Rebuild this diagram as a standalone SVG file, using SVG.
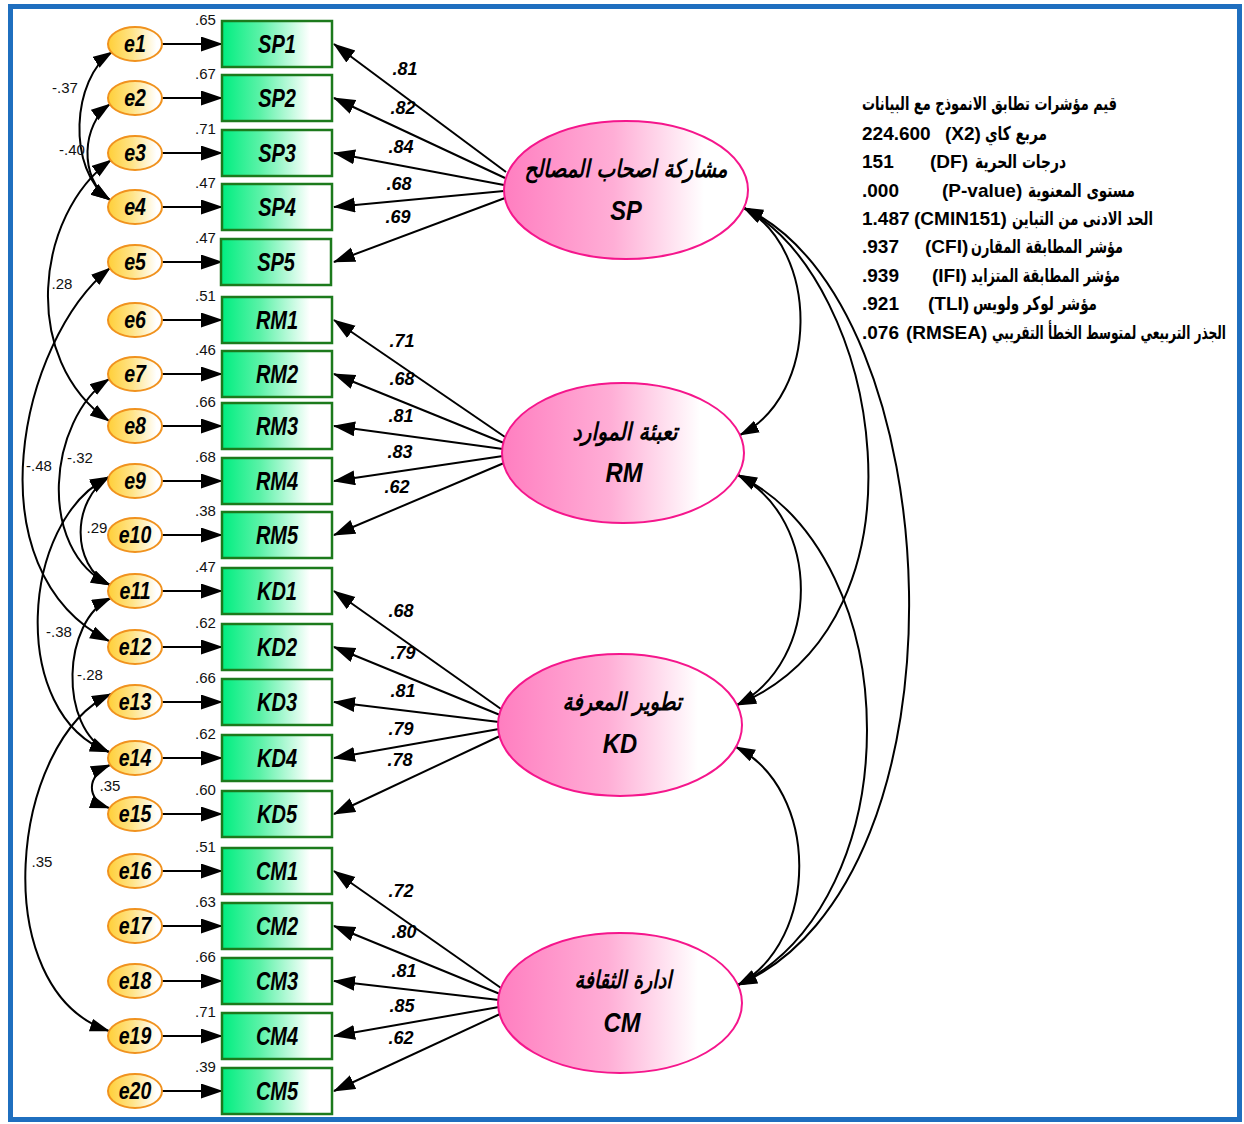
<svg xmlns="http://www.w3.org/2000/svg" width="1244" height="1124" viewBox="0 0 1244 1124">
<style>
.ln{stroke:#000;stroke-width:2;fill:none}
.one{marker-end:url(#ah)}
.two{marker-start:url(#ahs);marker-end:url(#ahs)}
.box{fill:url(#gBox);stroke:#1C7A1C;stroke-width:2.5}
.err{fill:url(#gErr);stroke:#F0921E;stroke-width:2}
.lat{fill:url(#gLat);stroke:#F5168C;stroke-width:2}
.var{font-family:"Liberation Sans",Arial,sans-serif;font-size:15px;fill:#111}
.cv{font-family:"Liberation Sans",Arial,sans-serif;font-size:15px;fill:#111;text-anchor:middle}
.el{font-family:"Liberation Sans",Arial,sans-serif;font-size:23px;font-weight:bold;font-style:italic;text-anchor:middle;transform-box:fill-box;transform-origin:center;transform:scaleX(0.85)}
.bl{font-family:"Liberation Sans",Arial,sans-serif;font-size:25px;font-weight:bold;font-style:italic;text-anchor:middle;transform-box:fill-box;transform-origin:center;transform:scaleX(0.8)}
.ld{font-family:"Liberation Sans",Arial,sans-serif;font-size:18px;font-weight:bold;font-style:italic;text-anchor:middle}
.lt{font-family:"Liberation Sans",Arial,sans-serif;font-size:27px;font-weight:bold;font-style:italic;text-anchor:middle;transform-box:fill-box;transform-origin:center;transform:scaleX(0.88)}
.ar{font-family:"DejaVu Sans","Noto Sans",sans-serif;font-size:24px;font-weight:bold;font-style:italic;text-anchor:middle}
.st{font-family:"Liberation Sans",Arial,sans-serif;font-size:19px;font-weight:bold}
.sa{font-family:"DejaVu Sans","Noto Sans",sans-serif;font-size:19px;font-weight:bold}
</style>
<defs>
<marker id="ah" markerUnits="userSpaceOnUse" markerWidth="22" markerHeight="16" refX="21" refY="7.5" orient="auto-start-reverse"><path d="M0,0 L22,7.5 L0,15 z" fill="#000"/></marker>
<marker id="ahs" markerUnits="userSpaceOnUse" markerWidth="20" markerHeight="14" refX="19" refY="6.5" orient="auto-start-reverse"><path d="M0,0 L20,6.5 L0,13 z" fill="#000"/></marker>
<linearGradient id="gBox" x1="0" y1="0" x2="1" y2="0"><stop offset="0" stop-color="#00EE80"/><stop offset="0.35" stop-color="#5CF2A8"/><stop offset="0.8" stop-color="#FFFFFF"/></linearGradient>
<linearGradient id="gErr" x1="0" y1="0" x2="1" y2="0"><stop offset="0" stop-color="#FFCF38"/><stop offset="0.45" stop-color="#FFE488"/><stop offset="0.9" stop-color="#FFFFFF"/></linearGradient>
<linearGradient id="gLat" x1="0" y1="0" x2="1" y2="0"><stop offset="0" stop-color="#FF7EC0"/><stop offset="0.45" stop-color="#FFAED6"/><stop offset="0.82" stop-color="#FFFFFF"/></linearGradient>
</defs>
<rect x="0" y="0" width="1244" height="1124" fill="#fff"/>
<rect x="10.5" y="6.5" width="1229" height="1113" fill="none" stroke="#1F6FBF" stroke-width="5"/>

<g id="connectors">
<line class="ln one" x1="162" y1="44" x2="222" y2="44"/>
<line class="ln one" x1="162" y1="98" x2="222" y2="98"/>
<line class="ln one" x1="162" y1="153" x2="222" y2="153"/>
<line class="ln one" x1="162" y1="207" x2="222" y2="207"/>
<line class="ln one" x1="162" y1="262" x2="222" y2="262"/>
<line class="ln one" x1="162" y1="320" x2="222" y2="320"/>
<line class="ln one" x1="162" y1="374" x2="222" y2="374"/>
<line class="ln one" x1="162" y1="426" x2="222" y2="426"/>
<line class="ln one" x1="162" y1="481" x2="222" y2="481"/>
<line class="ln one" x1="162" y1="535" x2="222" y2="535"/>
<line class="ln one" x1="162" y1="591" x2="222" y2="591"/>
<line class="ln one" x1="162" y1="647" x2="222" y2="647"/>
<line class="ln one" x1="162" y1="702" x2="222" y2="702"/>
<line class="ln one" x1="162" y1="758" x2="222" y2="758"/>
<line class="ln one" x1="162" y1="814" x2="222" y2="814"/>
<line class="ln one" x1="162" y1="871" x2="222" y2="871"/>
<line class="ln one" x1="162" y1="926" x2="222" y2="926"/>
<line class="ln one" x1="162" y1="981" x2="222" y2="981"/>
<line class="ln one" x1="162" y1="1036" x2="222" y2="1036"/>
<line class="ln one" x1="162" y1="1091" x2="222" y2="1091"/>
<line class="ln one" x1="506" y1="172" x2="334" y2="44"/>
<line class="ln one" x1="505" y1="178" x2="334" y2="98"/>
<line class="ln one" x1="504" y1="185" x2="334" y2="153"/>
<line class="ln one" x1="504" y1="191" x2="334" y2="207"/>
<line class="ln one" x1="505" y1="198" x2="334" y2="262"/>
<line class="ln one" x1="505" y1="437" x2="334" y2="320"/>
<line class="ln one" x1="504" y1="443" x2="334" y2="374"/>
<line class="ln one" x1="503" y1="449" x2="334" y2="426"/>
<line class="ln one" x1="503" y1="456" x2="334" y2="481"/>
<line class="ln one" x1="504" y1="463" x2="334" y2="535"/>
<line class="ln one" x1="501" y1="709" x2="334" y2="591"/>
<line class="ln one" x1="500" y1="715" x2="334" y2="647"/>
<line class="ln one" x1="499" y1="722" x2="334" y2="702"/>
<line class="ln one" x1="499" y1="729" x2="334" y2="758"/>
<line class="ln one" x1="500" y1="736" x2="334" y2="814"/>
<line class="ln one" x1="501" y1="988" x2="334" y2="871"/>
<line class="ln one" x1="500" y1="994" x2="334" y2="926"/>
<line class="ln one" x1="499" y1="1000" x2="334" y2="981"/>
<line class="ln one" x1="499" y1="1007" x2="334" y2="1036"/>
<line class="ln one" x1="500" y1="1014" x2="334" y2="1091"/>
<path class="ln two" d="M112,52 C72,78 66,170 110,200"/>
<path class="ln two" d="M110,104 C82,124 78,178 110,200"/>
<path class="ln two" d="M111,160 C35,215 20,360 109,421"/>
<path class="ln two" d="M110,268 C20,340 -30,570 109,641"/>
<path class="ln two" d="M109,379 C48,420 36,550 110,585"/>
<path class="ln two" d="M109,477 C72,500 70,565 110,585"/>
<path class="ln two" d="M109,477 C20,520 8,715 109,752"/>
<path class="ln two" d="M111,598 C62,620 58,728 109,752"/>
<path class="ln two" d="M110,765 C86,775 86,800 109,808"/>
<path class="ln two" d="M111,694 C10,740 -15,990 109,1031"/>
<path class="ln two" d="M744,208 C820,250 820,395 740,435"/>
<path class="ln two" d="M744,208 C880,280 940,620 737,705"/>
<path class="ln two" d="M744,208 C950,300 980,880 738,985"/>
<path class="ln two" d="M738,475 C822,520 822,660 737,705"/>
<path class="ln two" d="M738,475 C910,560 910,900 738,985"/>
<path class="ln two" d="M736,747 C820,790 820,940 738,985"/>
<g id="connector-labels">
<text class="ld" x="405" y="75">.81</text>
<text class="ld" x="403" y="114">.82</text>
<text class="ld" x="401" y="153">.84</text>
<text class="ld" x="399" y="190">.68</text>
<text class="ld" x="398" y="223">.69</text>
<text class="ld" x="402" y="347">.71</text>
<text class="ld" x="402" y="385">.68</text>
<text class="ld" x="401" y="422">.81</text>
<text class="ld" x="400" y="458">.83</text>
<text class="ld" x="397" y="493">.62</text>
<text class="ld" x="401" y="617">.68</text>
<text class="ld" x="403" y="659">.79</text>
<text class="ld" x="403" y="697">.81</text>
<text class="ld" x="401" y="735">.79</text>
<text class="ld" x="400" y="766">.78</text>
<text class="ld" x="401" y="897">.72</text>
<text class="ld" x="404" y="938">.80</text>
<text class="ld" x="404" y="977">.81</text>
<text class="ld" x="402" y="1012">.85</text>
<text class="ld" x="401" y="1044">.62</text>
<text class="cv" x="65" y="93">-.37</text>
<text class="cv" x="72" y="155">-.40</text>
<text class="cv" x="62" y="289">.28</text>
<text class="cv" x="39" y="471">-.48</text>
<text class="cv" x="80" y="463">-.32</text>
<text class="cv" x="97" y="533">.29</text>
<text class="cv" x="59" y="637">-.38</text>
<text class="cv" x="90" y="680">-.28</text>
<text class="cv" x="110" y="791">.35</text>
<text class="cv" x="42" y="867">.35</text>
</g>
</g>

<g id="e1"><ellipse class="err" cx="135" cy="44" rx="27" ry="17"/><text class="el" x="135" y="52">e1</text></g>
<g id="e2"><ellipse class="err" cx="135" cy="98" rx="27" ry="17"/><text class="el" x="135" y="106">e2</text></g>
<g id="e3"><ellipse class="err" cx="135" cy="153" rx="27" ry="17"/><text class="el" x="135" y="161">e3</text></g>
<g id="e4"><ellipse class="err" cx="135" cy="207" rx="27" ry="17"/><text class="el" x="135" y="215">e4</text></g>
<g id="e5"><ellipse class="err" cx="135" cy="262" rx="27" ry="17"/><text class="el" x="135" y="270">e5</text></g>
<g id="e6"><ellipse class="err" cx="135" cy="320" rx="27" ry="17"/><text class="el" x="135" y="328">e6</text></g>
<g id="e7"><ellipse class="err" cx="135" cy="374" rx="27" ry="17"/><text class="el" x="135" y="382">e7</text></g>
<g id="e8"><ellipse class="err" cx="135" cy="426" rx="27" ry="17"/><text class="el" x="135" y="434">e8</text></g>
<g id="e9"><ellipse class="err" cx="135" cy="481" rx="27" ry="17"/><text class="el" x="135" y="489">e9</text></g>
<g id="e10"><ellipse class="err" cx="135" cy="535" rx="27" ry="17"/><text class="el" x="135" y="543">e10</text></g>
<g id="e11"><ellipse class="err" cx="135" cy="591" rx="27" ry="17"/><text class="el" x="135" y="599">e11</text></g>
<g id="e12"><ellipse class="err" cx="135" cy="647" rx="27" ry="17"/><text class="el" x="135" y="655">e12</text></g>
<g id="e13"><ellipse class="err" cx="135" cy="702" rx="27" ry="17"/><text class="el" x="135" y="710">e13</text></g>
<g id="e14"><ellipse class="err" cx="135" cy="758" rx="27" ry="17"/><text class="el" x="135" y="766">e14</text></g>
<g id="e15"><ellipse class="err" cx="135" cy="814" rx="27" ry="17"/><text class="el" x="135" y="822">e15</text></g>
<g id="e16"><ellipse class="err" cx="135" cy="871" rx="27" ry="17"/><text class="el" x="135" y="879">e16</text></g>
<g id="e17"><ellipse class="err" cx="135" cy="926" rx="27" ry="17"/><text class="el" x="135" y="934">e17</text></g>
<g id="e18"><ellipse class="err" cx="135" cy="981" rx="27" ry="17"/><text class="el" x="135" y="989">e18</text></g>
<g id="e19"><ellipse class="err" cx="135" cy="1036" rx="27" ry="17"/><text class="el" x="135" y="1044">e19</text></g>
<g id="e20"><ellipse class="err" cx="135" cy="1091" rx="27" ry="17"/><text class="el" x="135" y="1099">e20</text></g>

<g id="SP1"><rect class="box" x="222" y="21" width="110" height="46"/><text class="bl" x="277" y="53">SP1</text><text class="var" x="195" y="25">.65</text></g>
<g id="SP2"><rect class="box" x="222" y="75" width="110" height="46"/><text class="bl" x="277" y="107">SP2</text><text class="var" x="195" y="79">.67</text></g>
<g id="SP3"><rect class="box" x="222" y="130" width="110" height="46"/><text class="bl" x="277" y="162">SP3</text><text class="var" x="195" y="134">.71</text></g>
<g id="SP4"><rect class="box" x="222" y="184" width="110" height="46"/><text class="bl" x="277" y="216">SP4</text><text class="var" x="195" y="188">.47</text></g>
<g id="SP5"><rect class="box" x="221" y="239" width="110" height="46"/><text class="bl" x="276" y="271">SP5</text><text class="var" x="195" y="243">.47</text></g>
<g id="RM1"><rect class="box" x="222" y="297" width="110" height="46"/><text class="bl" x="277" y="329">RM1</text><text class="var" x="195" y="301">.51</text></g>
<g id="RM2"><rect class="box" x="222" y="351" width="110" height="46"/><text class="bl" x="277" y="383">RM2</text><text class="var" x="195" y="355">.46</text></g>
<g id="RM3"><rect class="box" x="222" y="403" width="110" height="46"/><text class="bl" x="277" y="435">RM3</text><text class="var" x="195" y="407">.66</text></g>
<g id="RM4"><rect class="box" x="222" y="458" width="110" height="46"/><text class="bl" x="277" y="490">RM4</text><text class="var" x="195" y="462">.68</text></g>
<g id="RM5"><rect class="box" x="222" y="512" width="110" height="46"/><text class="bl" x="277" y="544">RM5</text><text class="var" x="195" y="516">.38</text></g>
<g id="KD1"><rect class="box" x="222" y="568" width="110" height="46"/><text class="bl" x="277" y="600">KD1</text><text class="var" x="195" y="572">.47</text></g>
<g id="KD2"><rect class="box" x="222" y="624" width="110" height="46"/><text class="bl" x="277" y="656">KD2</text><text class="var" x="195" y="628">.62</text></g>
<g id="KD3"><rect class="box" x="222" y="679" width="110" height="46"/><text class="bl" x="277" y="711">KD3</text><text class="var" x="195" y="683">.66</text></g>
<g id="KD4"><rect class="box" x="222" y="735" width="110" height="46"/><text class="bl" x="277" y="767">KD4</text><text class="var" x="195" y="739">.62</text></g>
<g id="KD5"><rect class="box" x="222" y="791" width="110" height="46"/><text class="bl" x="277" y="823">KD5</text><text class="var" x="195" y="795">.60</text></g>
<g id="CM1"><rect class="box" x="222" y="848" width="110" height="46"/><text class="bl" x="277" y="880">CM1</text><text class="var" x="195" y="852">.51</text></g>
<g id="CM2"><rect class="box" x="222" y="903" width="110" height="46"/><text class="bl" x="277" y="935">CM2</text><text class="var" x="195" y="907">.63</text></g>
<g id="CM3"><rect class="box" x="222" y="958" width="110" height="46"/><text class="bl" x="277" y="990">CM3</text><text class="var" x="195" y="962">.66</text></g>
<g id="CM4"><rect class="box" x="222" y="1013" width="110" height="46"/><text class="bl" x="277" y="1045">CM4</text><text class="var" x="195" y="1017">.71</text></g>
<g id="CM5"><rect class="box" x="222" y="1068" width="110" height="46"/><text class="bl" x="277" y="1100">CM5</text><text class="var" x="195" y="1072">.39</text></g>

<g id="SP"><ellipse class="lat" cx="626" cy="190" rx="122" ry="69"/><text class="ar" x="626" y="177" textLength="203" lengthAdjust="spacingAndGlyphs">مشاركة اصحاب المصالح</text><text class="lt" x="626" y="220">SP</text></g>
<g id="RM"><ellipse class="lat" cx="623" cy="453" rx="121" ry="70"/><text class="ar" x="625" y="440" textLength="105" lengthAdjust="spacingAndGlyphs">تعبئة الموارد</text><text class="lt" x="624" y="482">RM</text></g>
<g id="KD"><ellipse class="lat" cx="620" cy="725" rx="122" ry="71"/><text class="ar" x="622" y="710" textLength="119" lengthAdjust="spacingAndGlyphs">تطوير المعرفة</text><text class="lt" x="620" y="753">KD</text></g>
<g id="CM"><ellipse class="lat" cx="620" cy="1003" rx="122" ry="70"/><text class="ar" x="623" y="988" textLength="97" lengthAdjust="spacingAndGlyphs">ادارة الثقافة</text><text class="lt" x="622" y="1032">CM</text></g>

<g id="fit-indices">
<text class="sa" x="862" y="110" textLength="255" lengthAdjust="spacingAndGlyphs">قيم مؤشرات تطابق الانموذج مع البيانات</text>
<text class="st" x="862" y="140">224.600</text><text class="st" x="945" y="140">(X2)</text><text class="sa" x="985" y="140" textLength="62" lengthAdjust="spacingAndGlyphs">مربع كاي</text>
<text class="st" x="862" y="168">151</text><text class="st" x="930" y="168">(DF)</text><text class="sa" x="975" y="168" textLength="91" lengthAdjust="spacingAndGlyphs">درجات الحرية</text>
<text class="st" x="862" y="197">.000</text><text class="st" x="942" y="197">(P-value)</text><text class="sa" x="1028" y="197" textLength="107" lengthAdjust="spacingAndGlyphs">مستوى المعنوية</text>
<text class="st" x="862" y="225">1.487</text><text class="st" x="914" y="225">(CMIN151)</text><text class="sa" x="1012" y="225" textLength="141" lengthAdjust="spacingAndGlyphs">الحد الادنى من التباين</text>
<text class="st" x="862" y="253">.937</text><text class="st" x="925" y="253">(CFI)</text><text class="sa" x="971" y="253" textLength="152" lengthAdjust="spacingAndGlyphs">مؤشر المطابقة المقارن</text>
<text class="st" x="862" y="282">.939</text><text class="st" x="932" y="282">(IFI)</text><text class="sa" x="971" y="282" textLength="149" lengthAdjust="spacingAndGlyphs">مؤشر المطابقة المتزايد</text>
<text class="st" x="862" y="310">.921</text><text class="st" x="928" y="310">(TLI)</text><text class="sa" x="973" y="310" textLength="124" lengthAdjust="spacingAndGlyphs">مؤشر لوكر ولويس</text>
<text class="st" x="862" y="339">.076</text><text class="st" x="906" y="339">(RMSEA)</text><text class="sa" x="992" y="339" textLength="234" lengthAdjust="spacingAndGlyphs">الجذر التربيعي لمتوسط الخطأ التقريبي</text>
</g>
</svg>
